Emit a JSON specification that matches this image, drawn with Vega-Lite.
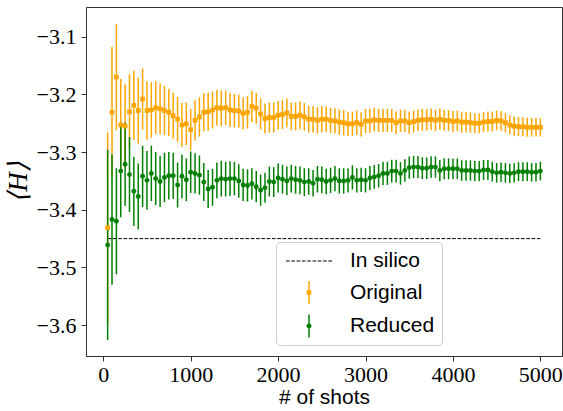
{
  "$schema": "https://vega.github.io/schema/vega-lite/v6.json",
  "autosize": {"type": "none"},
  "width": 476,
  "height": 349,
  "padding": {"left": 86, "top": 7, "right": 1, "bottom": 55},
  "background": "white",
  "config": {
    "view": {"stroke": "#333333", "strokeWidth": 1},
    "axis": {
      "grid": false,
      "domainColor": "#333333",
      "tickColor": "#333333",
      "tickSize": 5,
      "labelFont": "Liberation Serif",
      "labelFontSize": 22,
      "labelColor": "black",
      "titleColor": "black",
      "titleFontWeight": "normal"
    },
    "legend": {
      "orient": "none",
      "legendX": 190,
      "legendY": 235,
      "symbolSize": 576,
      "symbolOpacity": 1,
      "symbolStrokeWidth": 0,
      "labelFont": "Liberation Sans",
      "labelFontSize": 21,
      "labelColor": "black",
      "labelOffset": 29,
      "symbolOffset": 14,
      "padding": 7,
      "rowPadding": 9.5,
      "strokeColor": "#cccccc",
      "fillColor": "rgba(255,255,255,0.8)",
      "cornerRadius": 4
    }
  },
  "datasets": {
    "shots": [
      {"n":50,"o":-3.431,"r":-3.461,"e":0.165},
      {"n":100,"o":-3.231,"r":-3.417,"e":0.113},
      {"n":150,"o":-3.170,"r":-3.420,"e":0.092},
      {"n":200,"o":-3.253,"r":-3.333,"e":0.080},
      {"n":250,"o":-3.255,"r":-3.321,"e":0.072},
      {"n":300,"o":-3.230,"r":-3.339,"e":0.065},
      {"n":350,"o":-3.219,"r":-3.368,"e":0.060},
      {"n":400,"o":-3.228,"r":-3.377,"e":0.057},
      {"n":450,"o":-3.208,"r":-3.342,"e":0.053},
      {"n":500,"o":-3.228,"r":-3.349,"e":0.051},
      {"n":550,"o":-3.227,"r":-3.337,"e":0.048},
      {"n":600,"o":-3.223,"r":-3.346,"e":0.046},
      {"n":650,"o":-3.225,"r":-3.351,"e":0.044},
      {"n":700,"o":-3.228,"r":-3.344,"e":0.043},
      {"n":750,"o":-3.231,"r":-3.341,"e":0.041},
      {"n":800,"o":-3.237,"r":-3.341,"e":0.040},
      {"n":850,"o":-3.243,"r":-3.357,"e":0.039},
      {"n":900,"o":-3.253,"r":-3.342,"e":0.038},
      {"n":950,"o":-3.251,"r":-3.348,"e":0.037},
      {"n":1000,"o":-3.261,"r":-3.335,"e":0.036},
      {"n":1050,"o":-3.245,"r":-3.337,"e":0.035},
      {"n":1100,"o":-3.239,"r":-3.340,"e":0.034},
      {"n":1150,"o":-3.231,"r":-3.352,"e":0.033},
      {"n":1200,"o":-3.230,"r":-3.364,"e":0.033},
      {"n":1250,"o":-3.227,"r":-3.361,"e":0.032},
      {"n":1300,"o":-3.223,"r":-3.349,"e":0.031},
      {"n":1350,"o":-3.224,"r":-3.346,"e":0.031},
      {"n":1400,"o":-3.223,"r":-3.347,"e":0.030},
      {"n":1450,"o":-3.227,"r":-3.346,"e":0.030},
      {"n":1500,"o":-3.228,"r":-3.346,"e":0.029},
      {"n":1550,"o":-3.229,"r":-3.350,"e":0.029},
      {"n":1600,"o":-3.233,"r":-3.357,"e":0.028},
      {"n":1650,"o":-3.231,"r":-3.358,"e":0.028},
      {"n":1700,"o":-3.221,"r":-3.355,"e":0.027},
      {"n":1750,"o":-3.224,"r":-3.360,"e":0.027},
      {"n":1800,"o":-3.234,"r":-3.366,"e":0.027},
      {"n":1850,"o":-3.242,"r":-3.362,"e":0.026},
      {"n":1900,"o":-3.240,"r":-3.351,"e":0.026},
      {"n":1950,"o":-3.240,"r":-3.352,"e":0.026},
      {"n":2000,"o":-3.236,"r":-3.345,"e":0.025},
      {"n":2050,"o":-3.235,"r":-3.347,"e":0.025},
      {"n":2100,"o":-3.232,"r":-3.350,"e":0.025},
      {"n":2150,"o":-3.238,"r":-3.346,"e":0.024},
      {"n":2200,"o":-3.238,"r":-3.348,"e":0.024},
      {"n":2250,"o":-3.236,"r":-3.349,"e":0.024},
      {"n":2300,"o":-3.239,"r":-3.352,"e":0.024},
      {"n":2350,"o":-3.243,"r":-3.351,"e":0.023},
      {"n":2400,"o":-3.243,"r":-3.354,"e":0.023},
      {"n":2450,"o":-3.245,"r":-3.347,"e":0.023},
      {"n":2500,"o":-3.243,"r":-3.348,"e":0.023},
      {"n":2550,"o":-3.243,"r":-3.351,"e":0.022},
      {"n":2600,"o":-3.245,"r":-3.349,"e":0.022},
      {"n":2650,"o":-3.246,"r":-3.346,"e":0.022},
      {"n":2700,"o":-3.248,"r":-3.350,"e":0.022},
      {"n":2750,"o":-3.249,"r":-3.350,"e":0.022},
      {"n":2800,"o":-3.251,"r":-3.349,"e":0.021},
      {"n":2850,"o":-3.251,"r":-3.344,"e":0.021},
      {"n":2900,"o":-3.249,"r":-3.349,"e":0.021},
      {"n":2950,"o":-3.252,"r":-3.348,"e":0.021},
      {"n":3000,"o":-3.246,"r":-3.349,"e":0.021},
      {"n":3050,"o":-3.246,"r":-3.345,"e":0.0207},
      {"n":3100,"o":-3.244,"r":-3.343,"e":0.0205},
      {"n":3150,"o":-3.245,"r":-3.341,"e":0.0203},
      {"n":3200,"o":-3.245,"r":-3.337,"e":0.0202},
      {"n":3250,"o":-3.245,"r":-3.337,"e":0.0200},
      {"n":3300,"o":-3.245,"r":-3.333,"e":0.0198},
      {"n":3350,"o":-3.249,"r":-3.333,"e":0.0197},
      {"n":3400,"o":-3.246,"r":-3.337,"e":0.0195},
      {"n":3450,"o":-3.246,"r":-3.332,"e":0.0194},
      {"n":3500,"o":-3.249,"r":-3.327,"e":0.0193},
      {"n":3550,"o":-3.247,"r":-3.326,"e":0.0191},
      {"n":3600,"o":-3.245,"r":-3.326,"e":0.0190},
      {"n":3650,"o":-3.244,"r":-3.328,"e":0.0189},
      {"n":3700,"o":-3.244,"r":-3.328,"e":0.0187},
      {"n":3750,"o":-3.243,"r":-3.326,"e":0.0186},
      {"n":3800,"o":-3.245,"r":-3.326,"e":0.0185},
      {"n":3850,"o":-3.243,"r":-3.332,"e":0.0184},
      {"n":3900,"o":-3.245,"r":-3.329,"e":0.0182},
      {"n":3950,"o":-3.245,"r":-3.329,"e":0.0181},
      {"n":4000,"o":-3.247,"r":-3.329,"e":0.0180},
      {"n":4050,"o":-3.246,"r":-3.329,"e":0.0179},
      {"n":4100,"o":-3.248,"r":-3.332,"e":0.0178},
      {"n":4150,"o":-3.248,"r":-3.332,"e":0.0177},
      {"n":4200,"o":-3.249,"r":-3.332,"e":0.0176},
      {"n":4250,"o":-3.250,"r":-3.333,"e":0.0175},
      {"n":4300,"o":-3.250,"r":-3.333,"e":0.0174},
      {"n":4350,"o":-3.248,"r":-3.331,"e":0.0173},
      {"n":4400,"o":-3.247,"r":-3.331,"e":0.0172},
      {"n":4450,"o":-3.247,"r":-3.334,"e":0.0171},
      {"n":4500,"o":-3.245,"r":-3.336,"e":0.0170},
      {"n":4550,"o":-3.246,"r":-3.335,"e":0.0169},
      {"n":4600,"o":-3.249,"r":-3.336,"e":0.0168},
      {"n":4650,"o":-3.253,"r":-3.337,"e":0.0167},
      {"n":4700,"o":-3.255,"r":-3.336,"e":0.0166},
      {"n":4750,"o":-3.256,"r":-3.334,"e":0.0165},
      {"n":4800,"o":-3.256,"r":-3.334,"e":0.0164},
      {"n":4850,"o":-3.257,"r":-3.334,"e":0.0163},
      {"n":4900,"o":-3.257,"r":-3.335,"e":0.0162},
      {"n":4950,"o":-3.257,"r":-3.335,"e":0.0162},
      {"n":5000,"o":-3.257,"r":-3.333,"e":0.0161}
    ],
    "silico": [
      {"series":"In silico","n":50,"H":-3.45},
      {"series":"In silico","n":5000,"H":-3.45}
    ]
  },
  "layer": [
    {
      "data": {"name": "silico"},
      "mark": {"type": "line", "color": "black", "strokeWidth": 1, "strokeDash": [3.7, 1.6]},
      "encoding": {
        "x": {"field": "n", "type": "quantitative", "title": "# of shots",
              "scale": {"domain": [-197.5, 5247.5], "nice": false, "zero": false},
              "axis": {"values": [0,1000,2000,3000,4000,5000], "format": "d", "labelPadding": 3, "titleFont": "Liberation Sans", "titleFontSize": 21, "titlePadding": 1}},
        "y": {"field": "H", "type": "quantitative", "title": "⟨H⟩",
              "scale": {"domain": [-3.6535, -3.0485], "nice": false, "zero": false},
              "axis": {"values": [-3.6,-3.5,-3.4,-3.3,-3.2,-3.1], "format": ".1f", "labelPadding": 5, "titleFont": "Liberation Serif", "titleFontStyle": "italic", "titleFontSize": 27, "titlePadding": 4}}
      }
    },
    {
      "data": {"name": "shots"},
      "mark": {"type": "errorbar", "ticks": false, "color": "#FFA500", "thickness": 1.5},
      "encoding": {
        "x": {"field": "n", "type": "quantitative", "title": "# of shots"},
        "y": {"field": "o", "type": "quantitative", "title": "⟨H⟩"},
        "yError": {"field": "e"}
      }
    },
    {
      "data": {"name": "shots"},
      "mark": {"type": "errorbar", "ticks": false, "color": "#008000", "thickness": 1.5},
      "encoding": {
        "x": {"field": "n", "type": "quantitative", "title": "# of shots"},
        "y": {"field": "r", "type": "quantitative", "title": "⟨H⟩"},
        "yError": {"field": "e"}
      }
    },
    {
      "data": {"name": "shots"},
      "mark": {"type": "point", "shape": "square", "filled": true, "color": "#FFA500", "size": 22, "opacity": 1},
      "encoding": {
        "x": {"field": "n", "type": "quantitative", "title": "# of shots"},
        "y": {"field": "o", "type": "quantitative", "title": "⟨H⟩"}
      }
    },
    {
      "data": {"name": "shots"},
      "mark": {"type": "point", "shape": "circle", "filled": true, "color": "#008000", "size": 24, "opacity": 1},
      "encoding": {
        "x": {"field": "n", "type": "quantitative", "title": "# of shots"},
        "y": {"field": "r", "type": "quantitative", "title": "⟨H⟩"}
      }
    },
    {
      "data": {"name": "silico"},
      "mark": {"type": "point", "filled": true, "opacity": 0},
      "encoding": {
        "x": {"field": "n", "type": "quantitative", "title": "# of shots"},
        "y": {"field": "H", "type": "quantitative", "title": "⟨H⟩"},
        "color": {"field": "series", "type": "nominal",
                  "scale": {"domain": ["In silico","Original","Reduced"], "range": ["#000000","#FFA500","#008000"]},
                  "legend": {"title": null}},
        "shape": {"field": "series", "type": "nominal",
                  "scale": {"domain": ["In silico","Original","Reduced"],
                            "range": [
                              "M-1.917,-0.045H-1.609V0.045H-1.917Z M-1.476,-0.045H-1.168V0.045H-1.476Z M-1.035,-0.045H-0.727V0.045H-1.035Z M-0.594,-0.045H-0.286V0.045H-0.594Z M-0.153,-0.045H0.155V0.045H-0.153Z M0.288,-0.045H0.596V0.045H0.288Z M0.729,-0.045H1.037V0.045H0.729Z M1.17,-0.045H1.478V0.045H1.17Z M1.611,-0.045H1.919V0.045H1.611Z",
                              "M-0.0625,-0.958H0.0625V0.958H-0.0625Z M-0.19,-0.19H0.19V0.19H-0.19Z",
                              "M-0.0625,-0.958H0.0625V0.958H-0.0625Z M-0.21,0A0.21,0.21 0 1,1 0.21,0A0.21,0.21 0 1,1 -0.21,0Z"
                            ]},
                  "legend": {"title": null}}
      }
    }
  ]
}
